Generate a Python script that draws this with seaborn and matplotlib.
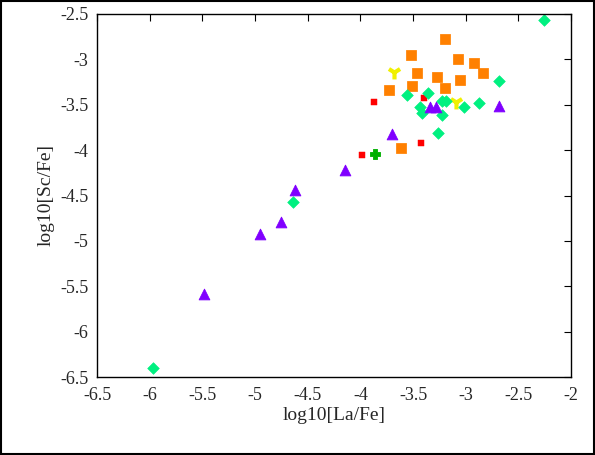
import matplotlib
matplotlib.use("Agg")
import matplotlib.pyplot as plt
import seaborn as sns
import pandas as pd

orange_x = [-3.195, -3.52, -3.07, -2.92, -2.84, -3.46, -3.27, -3.05, -3.20, -3.51, -3.73, -3.61]
orange_y = [-2.78, -2.95, -3.00, -3.04, -3.15, -3.15, -3.19, -3.23, -3.31, -3.29, -3.34, -3.98]
yellow_x = [-3.68, -3.09]
yellow_y = [-3.14, -3.47]
red_x = [-3.87, -3.40, -3.42, -3.98]
red_y = [-3.47, -3.43, -3.92, -4.05]
cross_x = [-3.86]
cross_y = [-4.04]
purple_x = [-3.34, -3.28, -3.70, -2.68, -4.15, -4.62, -4.75, -4.95, -5.48]
purple_y = [-3.52, -3.52, -3.82, -3.51, -4.22, -4.44, -4.79, -4.92, -5.59]
green_x = [-2.26, -2.68, -3.56, -3.36, -3.43, -3.41, -3.22, -3.19, -3.22, -3.02, -2.87, -3.26, -4.64, -5.97]
green_y = [-2.57, -3.24, -3.39, -3.37, -3.52, -3.59, -3.46, -3.46, -3.61, -3.53, -3.48, -3.81, -4.57, -6.40]

sns.set_style("white")
plt.rcParams['font.family'] = ['Liberation Serif', 'DejaVu Serif']
fig = plt.figure(figsize=(5.95, 4.55), dpi=100)
ax = fig.add_axes([97/595, 1-377/455, (571-97)/595, (377-14)/455])

series = [
    (orange_x, orange_y, "#ff8000", "s", 45),
    (yellow_x, yellow_y, "#f0f000", "1", 100),
    (red_x, red_y, "#ff0000", "s", 18),
    (cross_x, cross_y, "#00b000", "P", 60),
    (green_x, green_y, "#00f080", "D", 35),
    (purple_x, purple_y, "#8000ff", "^", 60),
]
for xs, ys, c, m, s in series:
    df = pd.DataFrame({"x": xs, "y": ys})
    kw = dict(linewidths=3) if m == "1" else dict(edgecolor=c)
    sns.scatterplot(data=df, x="x", y="y", color=c, marker=m, s=s, ax=ax, **kw)

ax.set_xlim(-6.5, -2)
ax.set_ylim(-6.5, -2.5)
ax.set_xticks([-6.5, -6, -5.5, -5, -4.5, -4, -3.5, -3, -2.5, -2])
ax.set_yticks([-6.5, -6, -5.5, -5, -4.5, -4, -3.5, -3, -2.5])
ax.set_xticklabels(["-6.5", "-6", "-5.5", "-5", "-4.5", "-4", "-3.5", "-3", "-2.5", "-2"])
ax.set_yticklabels(["-6.5", "-6", "-5.5", "-5", "-4.5", "-4", "-3.5", "-3", "-2.5"])
ax.tick_params(direction="in", length=5, labelsize=13, top=True, right=True, color="black")
ax.tick_params(axis="x", pad=7)
ax.tick_params(axis="y", pad=6)
for sp in ax.spines.values():
    sp.set_color("black"); sp.set_linewidth(1)
ax.set_xlabel("log10[La/Fe]", fontsize=14, labelpad=2)
ax.set_ylabel("log10[Sc/Fe]", fontsize=14)
fig.patches.append(plt.Rectangle((0.002, 0.002), 0.996, 0.996, transform=fig.transFigure,
                                 fill=False, edgecolor="black", linewidth=1.5))
fig.savefig("out.png", dpi=100)
